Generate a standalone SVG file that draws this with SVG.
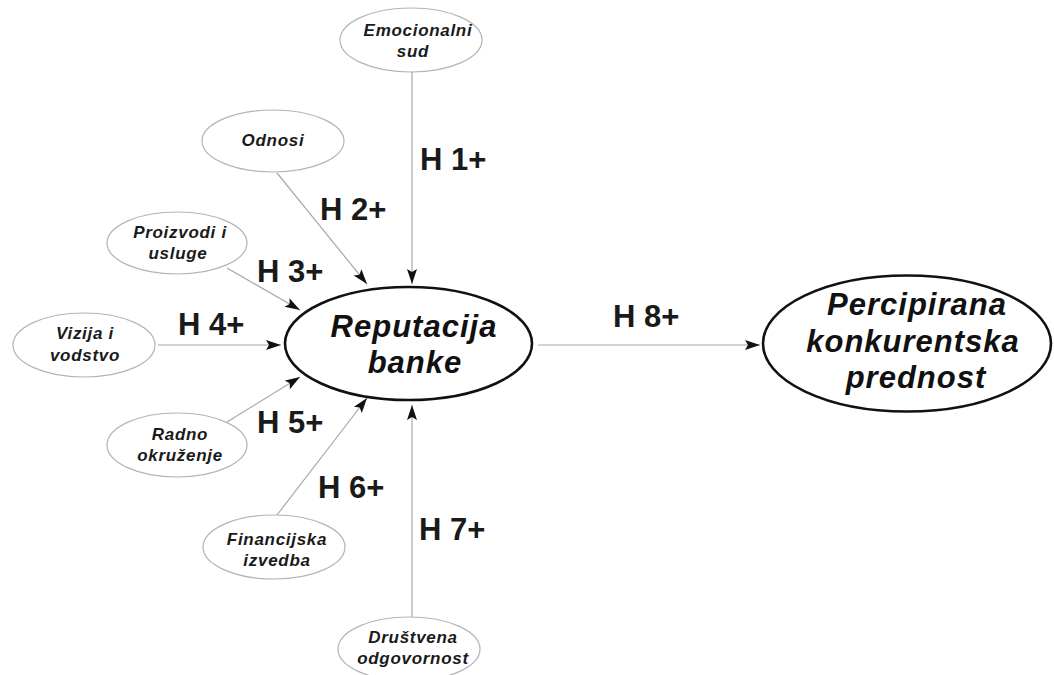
<svg xmlns="http://www.w3.org/2000/svg" width="1054" height="675" viewBox="0 0 1054 675">
<style>
.small ellipse{fill:#fff;stroke:#b4b4b4;stroke-width:1.2}
.big ellipse{fill:#fff;stroke:#111;stroke-width:2.6}
.st{font-family:"Liberation Sans",Arial,sans-serif;font-style:italic;font-weight:bold;font-size:17px;fill:#1a1a1a;text-anchor:middle;letter-spacing:0.7px}
.bt{font-family:"Liberation Sans",Arial,sans-serif;font-style:italic;font-weight:bold;font-size:31px;fill:#111;text-anchor:middle;letter-spacing:1px}
.h{font-family:"Liberation Sans",Arial,sans-serif;font-weight:bold;font-size:31px;fill:#1a1a1a}
.conn line{stroke:#a8a8a8;stroke-width:1.2;marker-end:url(#ah)}
</style>
<defs>
<marker id="ah" markerUnits="userSpaceOnUse" markerWidth="16" markerHeight="11" refX="15" refY="5" orient="auto">
<path d="M0,0 L15,5 L0,10 L3,5 Z" fill="#111"/>
</marker>
</defs>
<rect width="1054" height="675" fill="#fff"/>
<g id="connectors" class="conn">
<line x1="412" y1="72" x2="412" y2="284"/>
<line x1="277" y1="173" x2="367" y2="284"/>
<line x1="227" y1="268" x2="300" y2="310"/>
<line x1="158" y1="345" x2="281" y2="345"/>
<line x1="227" y1="422" x2="300" y2="377"/>
<line x1="277" y1="515" x2="367" y2="398"/>
<line x1="412" y1="618" x2="412" y2="405"/>
<line x1="538" y1="345" x2="760" y2="345"/>
</g>
<g id="labels">
<text class="h" x="420" y="170">H 1+</text>
<text class="h" x="320" y="220">H 2+</text>
<text class="h" x="257" y="282">H 3+</text>
<text class="h" x="178" y="335">H 4+</text>
<text class="h" x="257" y="433">H 5+</text>
<text class="h" x="318" y="498">H 6+</text>
<text class="h" x="419" y="540">H 7+</text>
<text class="h" x="613" y="327">H 8+</text>
</g>
<g id="emocionalni" class="small">
<ellipse cx="411" cy="40" rx="71" ry="32"/>
<text class="st" x="418" y="36">Emocionalni</text>
<text class="st" x="413" y="57">sud</text>
</g>
<g id="odnosi" class="small">
<ellipse cx="273" cy="141" rx="71" ry="31"/>
<text class="st" x="273" y="146">Odnosi</text>
</g>
<g id="proizvodi" class="small">
<ellipse cx="177" cy="243" rx="70" ry="31"/>
<text class="st" x="180" y="238">Proizvodi i</text>
<text class="st" x="178" y="259">usluge</text>
</g>
<g id="vizija" class="small">
<ellipse cx="84" cy="345" rx="71" ry="32"/>
<text class="st" x="85" y="339">Vizija i</text>
<text class="st" x="85" y="361">vodstvo</text>
</g>
<g id="radno" class="small">
<ellipse cx="177" cy="445" rx="70" ry="32"/>
<text class="st" x="180" y="440">Radno</text>
<text class="st" x="180" y="461">okruženje</text>
</g>
<g id="financijska" class="small">
<ellipse cx="274" cy="547" rx="71" ry="32"/>
<text class="st" x="277" y="545">Financijska</text>
<text class="st" x="277" y="566">izvedba</text>
</g>
<g id="drustvena" class="small">
<ellipse cx="409" cy="649" rx="71" ry="32"/>
<text class="st" x="413" y="643">Društvena</text>
<text class="st" x="413" y="664">odgovornost</text>
</g>
<g id="reputacija" class="big">
<ellipse cx="408.5" cy="343.5" rx="123.5" ry="56.5"/>
<text class="bt" x="414" y="337">Reputacija</text>
<text class="bt" x="415" y="373">banke</text>
</g>
<g id="percipirana" class="big">
<ellipse cx="907" cy="343.5" rx="144" ry="68"/>
<text class="bt" x="917" y="315">Percipirana</text>
<text class="bt" x="913" y="352">konkurentska</text>
<text class="bt" x="916" y="388">prednost</text>
</g>
</svg>
